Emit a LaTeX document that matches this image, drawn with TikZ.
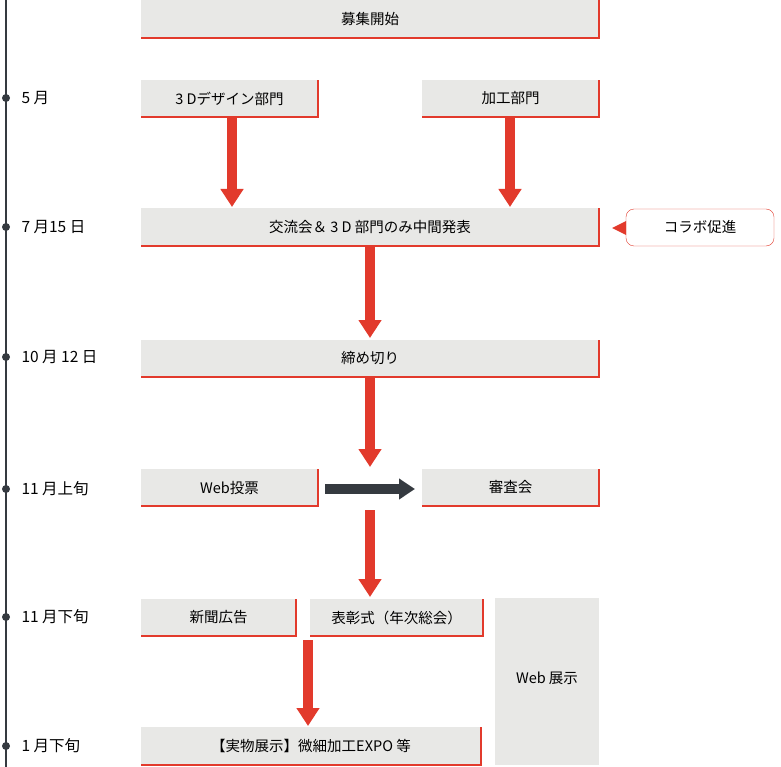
\documentclass[tikz,border=0pt]{standalone}
\usepackage{fontspec}
\setmainfont{Noto Sans CJK JP}
\usetikzlibrary{arrows.meta}
\definecolor{bx}{HTML}{E8E8E6}
\definecolor{rd}{HTML}{E23A2C}
\definecolor{dk}{HTML}{353A40}
\begin{document}
\begin{tikzpicture}[x=1pt,y=-1pt,
  lab/.style={font=\fontsize{14.5}{16}\selectfont},
  rarrow/.style={draw=rd,line width=10pt,-{Triangle[width=22pt,length=18pt]}},
  darrow/.style={draw=dk,line width=10pt,-{Triangle[width=20pt,length=16pt]}},
  dot/.style={circle,fill=dk,inner sep=0pt,minimum size=8pt}]
\useasboundingbox (0,0) rectangle (781,767);
\newcommand{\bx}[6]{%
  \fill[bx] (#2,#3) rectangle (#4,#5);
  \draw[rd,line width=2pt] (#2,#5) -- (#4,#5) -- (#4,#3);
  \node[lab,inner sep=0pt] (#1) at ({(#2+#4)/2},{(#3+#5)/2}) {#6};
  \coordinate (#1-s) at ({(#2+#4)/2},#5);
  \coordinate (#1-n) at ({(#2+#4)/2},#3);}
\draw[dk,line width=1.5pt] (6,0) -- (6,767);
\foreach \y/\t in {98/5 月,227/7 月15 日,357/10 月 12 日,489/11 月上旬,617/11 月下旬,746/1 月下旬}{
  \node[dot] at (6,\y) {};
  \node[anchor=west,font=\fontsize{15.5}{17}\selectfont] at (18,\y) {\t};}
\bx{a}{141}{0}{599}{38}{募集開始}
\bx{b}{141}{80}{318}{117}{3 Dデザイン部門}
\bx{c}{422}{80}{599}{117}{加工部門}
\bx{d}{141}{208}{599}{246}{交流会＆ 3 D 部門のみ中間発表}
\bx{e}{141}{340}{599}{377}{締め切り}
\bx{f}{141}{469}{318}{506}{Web投票}
\bx{g}{422}{469}{599}{506}{審査会}
\bx{h}{141}{599}{296}{636}{新聞広告}
\bx{i}{310}{599}{483}{636}{表彰式（年次総会）}
\bx{k}{141}{727}{481}{765}{【実物展示】微細加工EXPO 等}
\fill[bx] (495,598) rectangle (599,765);
\node[lab] (w) at (547,678) {Web 展示};
\node[lab,draw=rd,fill=white,rounded corners=8pt,minimum width=148pt,minimum height=37pt] (cl) at (700,227.5) {コラボ促進};
\fill[rd] (612,228) -- (626,221) -- (626,235) -- cycle;
\draw[rarrow] (232,118) -- (232,207);
\draw[rarrow] (510,118) -- (510,207);
\draw[rarrow] (370,247) -- (370,338);
\draw[rarrow] (370,378) -- (370,467);
\draw[rarrow] (370,510) -- (370,597);
\draw[rarrow] (308,640) -- (308,726);
\draw[darrow] (325,489) -- (415,489);
\end{tikzpicture}
\end{document}
